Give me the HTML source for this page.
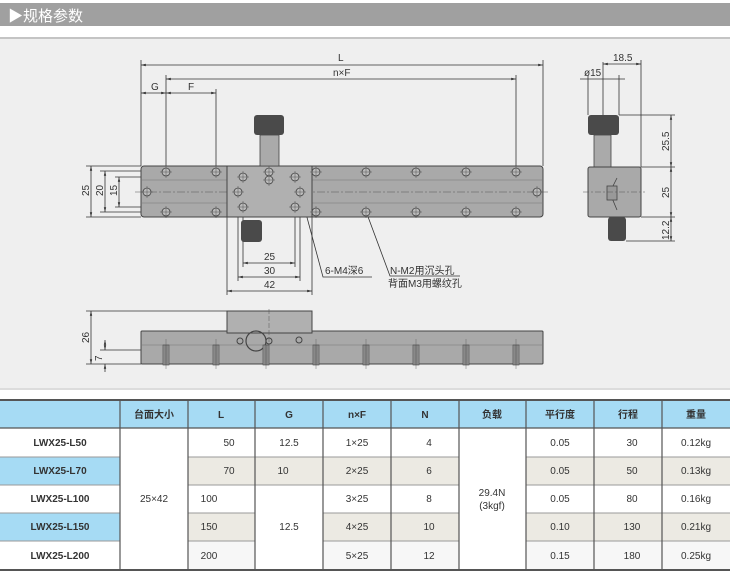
<!DOCTYPE html>
<html><head><meta charset="utf-8"><style>
body{margin:0;background:#fff;width:730px;height:571px;overflow:hidden}
svg{display:block}
text{font-family:"Liberation Sans","Noto Sans CJK SC",sans-serif;fill:#333}
</style></head><body>
<svg width="730" height="571" viewBox="0 0 730 571" xmlns="http://www.w3.org/2000/svg">
<defs>
<g id="hole"><circle r="4" fill="#bbb" stroke="#444" stroke-width="0.8"/><line x1="-6" y1="0" x2="6" y2="0" stroke="#555" stroke-width="0.5"/><line x1="0" y1="-6" x2="0" y2="6" stroke="#555" stroke-width="0.5"/></g>
<g id="screw"><rect x="-3" y="0" width="6" height="20" fill="#9a9a9a" stroke="#444" stroke-width="0.6"/><line x1="-1" y1="0" x2="-1" y2="20" stroke="#444" stroke-width="0.4"/><line x1="1" y1="0" x2="1" y2="20" stroke="#444" stroke-width="0.4"/><line x1="0" y1="-6" x2="0" y2="24" stroke="#555" stroke-width="0.4"/></g>
<marker id="a" markerWidth="6" markerHeight="6" refX="6" refY="3" orient="auto-start-reverse"><path d="M0,1.5 L6,3 L0,4.5z" fill="#333"/></marker>
</defs>
<!-- header -->
<rect x="0" y="3" width="730" height="23" fill="#a0a0a0"/>
<text x="8" y="21" font-size="15" fill="#fff" style="fill:#fff">▶规格参数</text>
<rect x="0" y="37" width="730" height="352" fill="#efefef"/>
<rect x="0" y="37" width="730" height="2" fill="#c4c4c4"/>
<rect x="0" y="388" width="730" height="2" fill="#dcdcdc"/>

<g stroke="#333" stroke-width="0.8" fill="none">
<!-- extension lines top view -->
<line x1="141" y1="60" x2="141" y2="166"/><line x1="543" y1="60" x2="543" y2="166"/>
<line x1="166" y1="75" x2="166" y2="166"/><line x1="516" y1="75" x2="516" y2="166"/>
<line x1="216" y1="89" x2="216" y2="166"/>
<line x1="141" y1="65" x2="543" y2="65" marker-start="url(#a)" marker-end="url(#a)"/>
<line x1="166" y1="79" x2="516" y2="79" marker-start="url(#a)" marker-end="url(#a)"/>
<line x1="141" y1="93" x2="166" y2="93" marker-start="url(#a)" marker-end="url(#a)"/>
<line x1="166" y1="93" x2="216" y2="93" marker-start="url(#a)" marker-end="url(#a)"/>
<!-- left vertical dims -->
<line x1="86" y1="166" x2="141" y2="166"/><line x1="86" y1="217" x2="141" y2="217"/>
<line x1="100" y1="171" x2="160" y2="171"/><line x1="100" y1="212" x2="160" y2="212"/>
<line x1="115" y1="177" x2="160" y2="177"/><line x1="115" y1="207" x2="160" y2="207"/>
<line x1="91" y1="166" x2="91" y2="217" marker-start="url(#a)" marker-end="url(#a)"/>
<line x1="105" y1="171" x2="105" y2="212" marker-start="url(#a)" marker-end="url(#a)"/>
<line x1="119" y1="177" x2="119" y2="207" marker-start="url(#a)" marker-end="url(#a)"/>
<!-- bottom dims -->
<line x1="243" y1="207" x2="243" y2="267"/><line x1="295" y1="207" x2="295" y2="267"/>
<line x1="238" y1="192" x2="238" y2="281"/><line x1="300" y1="192" x2="300" y2="281"/>
<line x1="227" y1="217" x2="227" y2="295"/><line x1="312" y1="217" x2="312" y2="295"/>
<line x1="243" y1="263" x2="295" y2="263" marker-start="url(#a)" marker-end="url(#a)"/>
<line x1="238" y1="277" x2="300" y2="277" marker-start="url(#a)" marker-end="url(#a)"/>
<line x1="227" y1="291" x2="312" y2="291" marker-start="url(#a)" marker-end="url(#a)"/>
<!-- leaders -->
<polyline points="301,195 323,277 372,277"/>
<polyline points="367,214 390,276 460,276"/>
</g>
<!-- rail top view -->
<rect x="141" y="166" width="402" height="51" rx="3" fill="#a9a9a9" stroke="#444" stroke-width="1"/>
<line x1="141" y1="180" x2="543" y2="180" stroke="#777" stroke-width="0.6"/>
<line x1="141" y1="203" x2="543" y2="203" stroke="#777" stroke-width="0.6"/>
<line x1="135" y1="192" x2="548" y2="192" stroke="#555" stroke-width="0.6" stroke-dasharray="8,2,2,2"/>
<rect x="227" y="166" width="85" height="51" fill="#b0b0b0" stroke="#444" stroke-width="1"/>
<g>
<use href="#hole" x="166" y="172"/><use href="#hole" x="216" y="172"/><use href="#hole" x="316" y="172"/><use href="#hole" x="366" y="172"/><use href="#hole" x="416" y="172"/><use href="#hole" x="466" y="172"/><use href="#hole" x="516" y="172"/>
<use href="#hole" x="166" y="212"/><use href="#hole" x="216" y="212"/><use href="#hole" x="316" y="212"/><use href="#hole" x="366" y="212"/><use href="#hole" x="416" y="212"/><use href="#hole" x="466" y="212"/><use href="#hole" x="516" y="212"/>
<use href="#hole" x="243" y="177"/><use href="#hole" x="295" y="177"/><use href="#hole" x="243" y="207"/><use href="#hole" x="295" y="207"/>
<use href="#hole" x="238" y="192"/><use href="#hole" x="300" y="192"/>
<use href="#hole" x="269" y="172"/><use href="#hole" x="269" y="180"/>
<use href="#hole" x="147" y="192"/><use href="#hole" x="537" y="192"/>
</g>
<!-- knobs -->
<rect x="260" y="135" width="19" height="31" fill="#aaa" stroke="#444" stroke-width="0.8"/>
<rect x="254" y="115" width="30" height="20" rx="3" fill="#4a4a4a"/>
<rect x="241" y="220" width="21" height="22" rx="3" fill="#4a4a4a"/>
<!-- labels -->
<g font-size="10">
<text x="338" y="61">L</text>
<text x="333" y="76">n×F</text>
<text x="151" y="90">G</text>
<text x="188" y="90">F</text>
<text x="264" y="260">25</text>
<text x="264" y="274">30</text>
<text x="264" y="288">42</text>
<text x="325" y="274">6-M4深6</text>
<text x="390" y="274">N-M2用沉头孔</text>
<text x="388" y="287">背面M3用螺纹孔</text>
<text transform="translate(89,196) rotate(-90)">25</text>
<text transform="translate(103,196) rotate(-90)">20</text>
<text transform="translate(117,196) rotate(-90)">15</text>
<text transform="translate(89,343) rotate(-90)">26</text>
<text transform="translate(102,361) rotate(-90)">7</text>
<text x="613" y="61">18.5</text>
<text x="584" y="76">ø15</text>
<text transform="translate(669,151) rotate(-90)">25.5</text>
<text transform="translate(669,198) rotate(-90)">25</text>
<text transform="translate(669,240) rotate(-90)">12.2</text>
</g>
<!-- side view -->
<g stroke="#333" stroke-width="0.8" fill="none">
<line x1="603" y1="62" x2="603" y2="170"/><line x1="641" y1="60" x2="641" y2="167"/>
<line x1="603" y1="64" x2="641" y2="64" marker-start="url(#a)" marker-end="url(#a)"/>
<line x1="588" y1="75" x2="588" y2="115"/><line x1="619" y1="75" x2="619" y2="115"/>
<line x1="580" y1="79" x2="625" y2="79"/>
<line x1="619" y1="115" x2="675" y2="115"/><line x1="641" y1="167" x2="675" y2="167"/><line x1="641" y1="217" x2="675" y2="217"/><line x1="626" y1="241" x2="675" y2="241"/>
<line x1="671" y1="115" x2="671" y2="167" marker-start="url(#a)" marker-end="url(#a)"/>
<line x1="671" y1="167" x2="671" y2="217" marker-start="url(#a)" marker-end="url(#a)"/>
<line x1="671" y1="217" x2="671" y2="241" marker-start="url(#a)" marker-end="url(#a)"/>
</g>
<rect x="594" y="135" width="17" height="32" fill="#aaa" stroke="#444" stroke-width="0.8"/>
<rect x="588" y="115" width="31" height="20" rx="3" fill="#4a4a4a"/>
<rect x="588" y="167" width="53" height="50" rx="2" fill="#a9a9a9" stroke="#444" stroke-width="1"/>
<path d="M617,178 L613,186 L612,198 L617,210" stroke="#444" fill="none" stroke-width="0.8"/>
<rect x="607" y="186" width="10" height="14" fill="#999" stroke="#444" stroke-width="0.8"/>
<rect x="608" y="217" width="18" height="24" rx="3" fill="#4a4a4a"/>
<line x1="583" y1="192" x2="645" y2="192" stroke="#555" stroke-width="0.5" stroke-dasharray="6,2,2,2"/>
<!-- bottom view -->
<g stroke="#333" stroke-width="0.8" fill="none">
<line x1="86" y1="311" x2="227" y2="311"/><line x1="86" y1="364" x2="141" y2="364"/><line x1="100" y1="350" x2="160" y2="350"/>
<line x1="91" y1="311" x2="91" y2="364" marker-start="url(#a)" marker-end="url(#a)"/>
<line x1="105" y1="340" x2="105" y2="350" marker-start="url(#a)" marker-end="url(#a)"/>
<line x1="105" y1="364" x2="105" y2="372" marker-start="url(#a)"/>
</g>
<rect x="141" y="331" width="402" height="33" rx="1" fill="#a9a9a9" stroke="#444" stroke-width="1"/>
<line x1="141" y1="345" x2="543" y2="345" stroke="#777" stroke-width="0.6"/>
<rect x="227" y="311" width="85" height="22" fill="#b0b0b0" stroke="#444" stroke-width="1"/>
<circle cx="256" cy="341" r="10" fill="none" stroke="#444" stroke-width="1.2"/>
<circle cx="240" cy="341" r="3" fill="none" stroke="#444"/><circle cx="269" cy="341" r="3" fill="none" stroke="#444"/><circle cx="299" cy="340" r="3" fill="none" stroke="#444"/>
<line x1="269" y1="309" x2="269" y2="345" stroke="#555" stroke-width="0.5" stroke-dasharray="5,2"/>
<g><use href="#screw" x="166" y="345"/><use href="#screw" x="216" y="345"/><use href="#screw" x="266" y="345"/><use href="#screw" x="316" y="345"/><use href="#screw" x="366" y="345"/><use href="#screw" x="416" y="345"/><use href="#screw" x="466" y="345"/><use href="#screw" x="516" y="345"/></g>

<!-- table -->
<rect x="0" y="400" width="730" height="28" fill="#a6dbf4"/>
<rect x="0" y="457" width="120" height="28" fill="#a6dbf4"/>
<rect x="0" y="513" width="120" height="28" fill="#a6dbf4"/>
<rect x="188" y="457" width="271" height="28" fill="#eceae3"/>
<rect x="526" y="457" width="204" height="28" fill="#eceae3"/>
<rect x="188" y="513" width="67" height="28" fill="#eceae3"/>
<rect x="323" y="513" width="136" height="28" fill="#eceae3"/>
<rect x="526" y="513" width="204" height="28" fill="#eceae3"/>
<rect x="188" y="541" width="67" height="29" fill="#f7f7f7"/>
<rect x="323" y="541" width="136" height="29" fill="#f7f7f7"/>
<rect x="526" y="541" width="204" height="29" fill="#f7f7f7"/>
<g stroke="#9a9a9a" stroke-width="1">
<line x1="0" y1="457" x2="120" y2="457"/><line x1="0" y1="485" x2="120" y2="485"/><line x1="0" y1="513" x2="120" y2="513"/><line x1="0" y1="541" x2="120" y2="541"/>
<line x1="188" y1="457" x2="459" y2="457"/><line x1="188" y1="485" x2="459" y2="485"/><line x1="188" y1="513" x2="255" y2="513"/><line x1="323" y1="513" x2="459" y2="513"/><line x1="188" y1="541" x2="255" y2="541"/><line x1="323" y1="541" x2="459" y2="541"/>
<line x1="526" y1="457" x2="730" y2="457"/><line x1="526" y1="485" x2="730" y2="485"/><line x1="526" y1="513" x2="730" y2="513"/><line x1="526" y1="541" x2="730" y2="541"/>
</g>
<g stroke="#555" stroke-width="1.2">
<line x1="0" y1="400" x2="730" y2="400" stroke-width="2"/>
<line x1="0" y1="428" x2="730" y2="428"/>
<line x1="0" y1="570" x2="730" y2="570" stroke-width="2"/>
<line x1="120" y1="400" x2="120" y2="570"/><line x1="188" y1="400" x2="188" y2="570"/><line x1="255" y1="400" x2="255" y2="570"/><line x1="323" y1="400" x2="323" y2="570"/><line x1="391" y1="400" x2="391" y2="570"/><line x1="459" y1="400" x2="459" y2="570"/><line x1="526" y1="400" x2="526" y2="570"/><line x1="594" y1="400" x2="594" y2="570"/><line x1="662" y1="400" x2="662" y2="570"/>
</g>
<g font-size="10" text-anchor="middle">
<g font-weight="bold"><text x="154" y="418">台面大小</text><text x="221" y="418">L</text><text x="289" y="418">G</text><text x="357" y="418">n×F</text><text x="425" y="418">N</text><text x="492" y="418">负载</text><text x="560" y="418">平行度</text><text x="628" y="418">行程</text><text x="696" y="418">重量</text>
<text x="60" y="446">LWX25-L50</text><text x="60" y="474">LWX25-L70</text><text x="60" y="502">LWX25-L100</text><text x="60" y="530">LWX25-L150</text><text x="60" y="559">LWX25-L200</text></g>
<text x="154" y="502">25×42</text>
<text x="229" y="446">50</text><text x="229" y="474">70</text><text x="209" y="502">100</text><text x="209" y="530">150</text><text x="209" y="559">200</text>
<text x="289" y="446">12.5</text><text x="283" y="474">10</text><text x="289" y="530">12.5</text>
<text x="357" y="446">1×25</text><text x="357" y="474">2×25</text><text x="357" y="502">3×25</text><text x="357" y="530">4×25</text><text x="357" y="559">5×25</text>
<text x="429" y="446">4</text><text x="429" y="474">6</text><text x="429" y="502">8</text><text x="429" y="530">10</text><text x="429" y="559">12</text>
<text x="492" y="496">29.4N</text><text x="492" y="509">(3kgf)</text>
<text x="560" y="446">0.05</text><text x="560" y="474">0.05</text><text x="560" y="502">0.05</text><text x="560" y="530">0.10</text><text x="560" y="559">0.15</text>
<text x="632" y="446">30</text><text x="632" y="474">50</text><text x="632" y="502">80</text><text x="632" y="530">130</text><text x="632" y="559">180</text>
<text x="696" y="446">0.12kg</text><text x="696" y="474">0.13kg</text><text x="696" y="502">0.16kg</text><text x="696" y="530">0.21kg</text><text x="696" y="559">0.25kg</text>
</g>
</svg>
</body></html>
